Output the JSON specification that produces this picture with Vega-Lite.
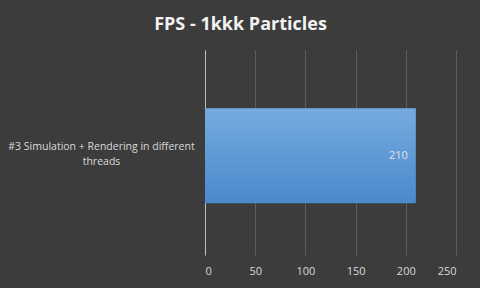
{
  "$schema": "https://vega.github.io/schema/vega-lite/v6.json",
  "width": 251,
  "height": 205,
  "autosize": {"type": "none"},
  "padding": {"left": 205, "top": 50, "right": 24, "bottom": 33},
  "background": "#3c3c3c",
  "title": {
    "text": "FPS - 1kkk Particles",
    "anchor": "middle",
    "dx": -90,
    "offset": 16,
    "font": "Open Sans",
    "fontSize": 18,
    "fontWeight": "bold",
    "color": "#f2f2f2"
  },
  "data": {
    "values": [
      {"scenario": "#3 Simulation + Rendering in different threads", "fps": 210}
    ]
  },
  "encoding": {
    "y": {
      "field": "scenario",
      "type": "nominal",
      "title": null,
      "scale": {"paddingInner": 0.537, "paddingOuter": 0.268, "align": 0.53},
      "axis": {
        "domain": true,
        "domainColor": "#bfbfbf",
        "ticks": false,
        "labelPadding": 104,
        "labelAlign": "center",
        "labelBaseline": "middle",
        "labelOffset": -9,
        "labelLimit": 300,
        "labelFont": "Open Sans",
        "labelFontSize": 10.5,
        "labelColor": "#d9d9d9",
        "labelLineHeight": 15,
        "labelExpr": "['#3 Simulation + Rendering in different', 'threads']"
      }
    },
    "x": {
      "field": "fps",
      "type": "quantitative",
      "title": null,
      "scale": {"domain": [0, 250], "nice": false},
      "axis": {
        "values": [0, 50, 100, 150, 200, 250],
        "domain": false,
        "ticks": false,
        "grid": true,
        "gridColor": "#5e5e5e",
        "gridWidth": 1,
        "labelPadding": 10,
        "labelFont": "Open Sans",
        "labelFontSize": 11,
        "labelColor": "#d9d9d9"
      }
    }
  },
  "layer": [
    {
      "mark": {
        "type": "bar",
        "color": {
          "gradient": "linear",
          "x1": 0, "y1": 0, "x2": 0, "y2": 1,
          "stops": [
            {"offset": 0, "color": "#76abe0"},
            {"offset": 1, "color": "#4a89cb"}
          ]
        }
      }
    },
    {
      "mark": {
        "type": "text",
        "align": "right",
        "dx": -8,
        "font": "Open Sans",
        "fontSize": 11,
        "color": "#e0e0e0"
      },
      "encoding": {"text": {"field": "fps", "type": "quantitative"}}
    }
  ],
  "config": {"view": {"stroke": null}}
}
